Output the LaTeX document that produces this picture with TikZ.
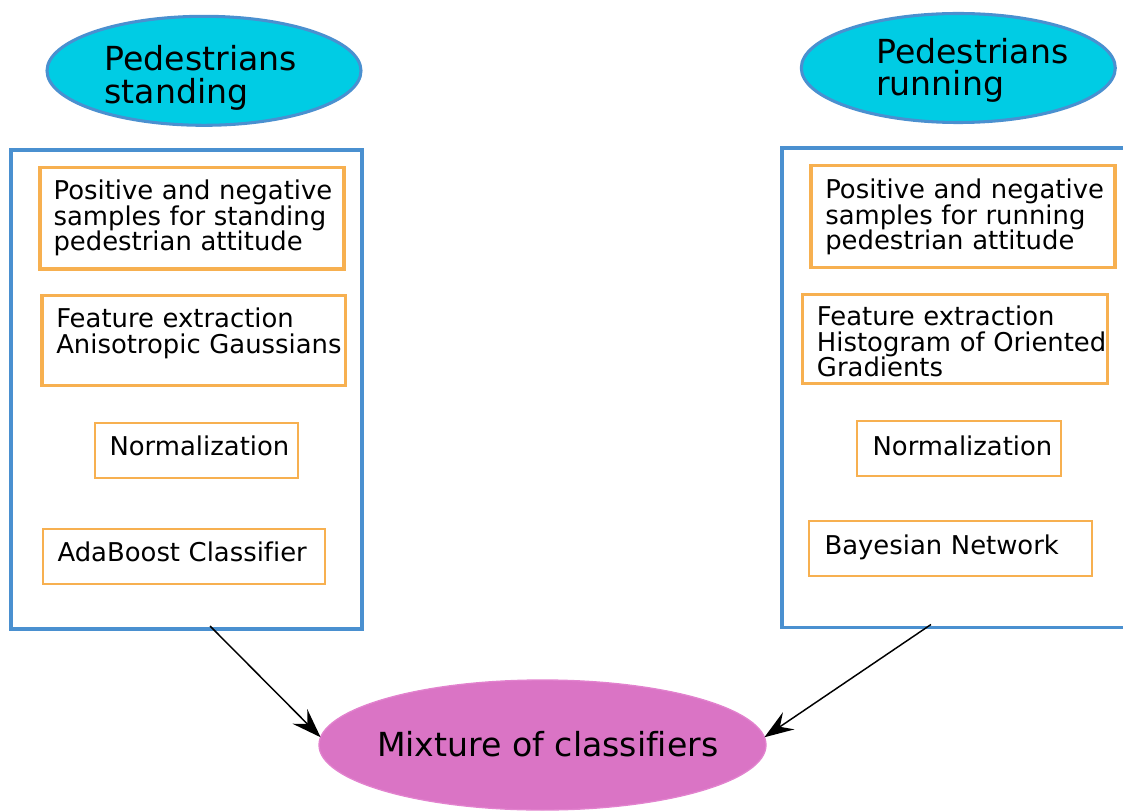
\documentclass[tikz,border=0pt]{standalone}
\usepackage{fontspec}
\setmainfont{DejaVu Sans}[Ligatures=NoCommon]
\usetikzlibrary{shapes.geometric,arrows.meta,calc}

\definecolor{panelblue}{RGB}{74,144,208}
\definecolor{headcyan}{RGB}{0,204,228}
\definecolor{steporange}{RGB}{247,176,80}
\definecolor{mixpink}{RGB}{218,116,197}
\definecolor{mixedge}{RGB}{226,130,206}

\tikzset{
  px/.style n args={2}{minimum width=#1*0.75pt, minimum height=#2*0.75pt},
  head/.style={ellipse, draw=panelblue, fill=headcyan, line width=2.3pt, inner sep=0pt, outer sep=0pt},
  panel/.style={rectangle, draw=panelblue, line width=2.6pt, inner sep=0pt, outer sep=0pt},
  stepthick/.style={rectangle, draw=steporange, line width=2.3pt, inner sep=0pt, outer sep=0pt},
  stepthin/.style={rectangle, draw=steporange, line width=1.5pt, inner sep=0pt, outer sep=0pt},
  bigfont/.style={font=\fontsize{24.85pt}{24.4pt}\selectfont},
  bigtxt/.style={bigfont, anchor=base west, inner sep=0pt, text width=170pt, align=left},
  smalltxt/.style={font=\fontsize{19.4pt}{19.1pt}\selectfont, anchor=base west, inner sep=0pt, text width=240pt, align=left},
  conn/.style={-{Stealth[length=22pt,width=15.5pt,inset=8pt]}, line width=1.1pt, draw=black},
}

\begin{document}
\begin{tikzpicture}[x=0.75pt, y=-0.75pt]
  \useasboundingbox (0,0) rectangle (1123,812);
  \clip (0,0) rectangle (1123,812);

  % attitude headers
  \node[head, px={314}{109}] (stand) at (204,70.8) {};
  \node[bigtxt] (standlbl) at (104.3,71) {Pedestrians\\standing};
  \node[head, px={314}{109}] (run) at (958.3,68) {};
  \node[bigtxt] (runlbl) at (876,63.3) {Pedestrians\\running};

  % processing panels
  \node[panel, px={351}{479}] (lpanel) at (186.5,389.5) {};
  \node[panel, px={353}{479.5}] (rpanel) at (958.5,387.75) {};

  % standing pipeline
  \node[stepthick, px={304}{101.5}] (ls1) at (192,218.25) {};
  \node[smalltxt] (ls1t) at (53.3,200) {Positive and negative\\samples for standing\\pedestrian attitude};
  \node[stepthick, px={303.5}{90}] (ls2) at (193.75,340.3) {};
  \node[smalltxt] (ls2t) at (56,328) {Feature extraction\\Anisotropic Gaussians};
  \node[stepthin, px={203.2}{54.8}] (ls3) at (196.1,450.1) {};
  \node[smalltxt] (ls3t) at (109.3,455.7) {Normalization};
  \node[stepthin, px={282}{55}] (ls4) at (184,556.2) {};
  \node[smalltxt] (ls4t) at (57.3,561.7) {AdaBoost Classifier};

  % running pipeline
  \node[stepthick, px={304}{101.6}] (rs1) at (963,216.5) {};
  \node[smalltxt] (rs1t) at (825,199) {Positive and negative\\samples for running\\pedestrian attitude};
  \node[stepthick, px={304.6}{89}] (rs2) at (955,338.8) {};
  \node[smalltxt] (rs2t) at (816.7,326) {Feature extraction\\Histogram of Oriented\\Gradients};
  \node[stepthin, px={203.7}{55}] (rs3) at (959.2,448.8) {};
  \node[smalltxt] (rs3t) at (872.3,455) {Normalization};
  \node[stepthin, px={282.7}{54.7}] (rs4) at (950.7,548.3) {};
  \node[smalltxt] (rs4t) at (824.3,554) {Bayesian Network};

  % combined classifier
  \node[ellipse, fill=mixpink, draw=mixedge, line width=1pt, inner sep=0pt, outer sep=0pt, px={447}{130}] (mix) at (542.5,745) {};
  \node[bigfont, anchor=base, inner sep=0pt] (mixlbl) at (547.8,756) {Mixture of classifiers};

  % connectors
  \draw[conn] ($(lpanel.south west)!0.567!(lpanel.south east)+(0,-3)$) -- (mix.178);
  \draw[conn] ($(rpanel.south west)!0.422!(rpanel.south east)+(0,-3)$) -- (mix.2);
\end{tikzpicture}
\end{document}
